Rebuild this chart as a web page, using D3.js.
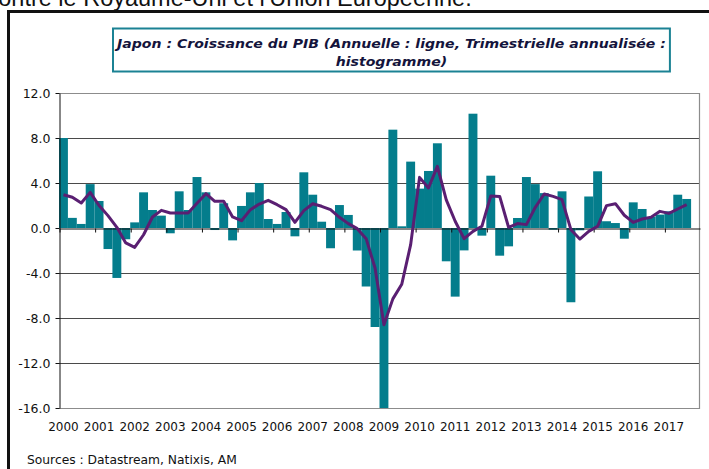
<!DOCTYPE html>
<html>
<head>
<meta charset="utf-8">
<script src="https://cdn.jsdelivr.net/npm/d3@7"></script>
<style>
  html, body { margin: 0; padding: 0; background: #ffffff; overflow: hidden; }
  svg { display: block; }
</style>
</head>
<body>
<svg id="chart" width="709" height="469"></svg>
<script>
// ---------- data ----------
const years = [2000, 2001, 2002, 2003, 2004, 2005, 2006, 2007, 2008, 2009,
               2010, 2011, 2012, 2013, 2014, 2015, 2016, 2017];
const quarterNames = ["T1", "T2", "T3", "T4"];

// Trimestrielle annualisée (histogramme), 2000 T1 -> 2017 T3
const quarterlyAnnualized = [
  8.0, 0.9, 0.36, 3.9,      // 2000
  2.4, -1.87, -4.44, -1.0,  // 2001
  0.5, 3.17, 1.6, 1.1,      // 2002
  -0.47, 3.26, 1.6, 4.53,   // 2003
  3.17, -0.18, 2.2, -1.1,   // 2004
  1.96, 3.17, 4.0, 0.8,     // 2005
  0.36, 1.42, -0.74, 4.95,  // 2006
  2.96, 0.56, -1.8, 2.04,   // 2007
  1.16, -2.0, -5.2, -8.8,   // 2008
  -16.0, 8.74, 0.15, 5.9,   // 2009
  3.5, 5.07, 7.53, -2.96,   // 2010
  -6.1, -1.99, 10.16, -0.68,// 2011
  4.65, -2.46, -1.63, 0.89, // 2012
  4.53, 3.9, 3.1, -0.15,    // 2013
  3.26, -6.6, -0.2, 2.8,    // 2014
  5.04, 0.6, 0.44, -0.95,   // 2015
  2.28, 1.69, 0.98, 1.19,   // 2016
  1.48, 2.96, 2.58          // 2017
];

// Annuelle (ligne), glissement annuel
const annual = [
  2.96, 2.73, 2.22, 3.17,
  2.0, 1.1, 0.06, -1.33,
  -1.72, -0.6, 0.98, 1.57,
  1.33, 1.33, 1.33, 2.2,
  3.05, 2.37, 2.37, 0.98,
  0.65, 1.63, 2.13, 2.46,
  2.07, 1.63, 0.5, 1.54,
  2.16, 1.93, 1.63, 0.95,
  0.39, -0.06, -0.95, -3.56,
  -8.6, -6.3, -5.0, -1.48,
  4.5, 3.56, 5.48, 2.5,
  0.6, -0.95, -0.3, 0.15,
  2.85, 2.81, 0.06, 0.39,
  0.3, 1.84, 3.02, 2.81,
  2.52, -0.15, -0.98, -0.3,
  0.15, 1.99, 2.16, 1.13,
  0.5, 0.8, 0.95, 1.48,
  1.3, 1.69, 2.07
];

const yTicks = [-16, -12, -8, -4, 0, 4, 8, 12];

const titleLine1 = "Japon : Croissance du PIB (Annuelle : ligne, Trimestrielle annualisée :";
const titleLine2 = "histogramme)";
const sourceText = "Sources : Datastream, Natixis, AM";
const headerText = "contre le Royaume-Uni et l'Union Européenne.";

// ---------- build ----------
const quarters = [];
years.forEach(y => quarterNames.forEach(q => quarters.push(y + " " + q)));

const barData = quarterlyAnnualized.map((v, i) => ({ q: quarters[i], v }));
const lineData = annual.map((v, i) => ({ q: quarters[i], v }));

const svg = d3.select("#chart");

const plot = { left: 59, right: 700, top: 93, bottom: 408 };

const x = d3.scaleBand().domain(quarters).range([plot.left, plot.right]).padding(0);
const y = d3.scaleLinear().domain([-16, 12]).range([plot.bottom, plot.top]);
const xYear = d3.scaleLinear().domain([years[0], years[years.length - 1] + 1]).range([plot.left, plot.right]);

// header text cut by the top of the picture
svg.append("text")
  .attr("x", -13.5).attr("y", 5.5)
  .attr("font-family", "'Liberation Sans', Arial, sans-serif")
  .attr("font-size", 23.5)
  .attr("fill", "#111")
  .text(headerText);

// outer frame
svg.append("rect")
  .attr("x", 8.5).attr("y", 11.5)
  .attr("width", 760).attr("height", 520)
  .attr("fill", "#ffffff")
  .attr("stroke", "#111")
  .attr("stroke-width", 3);

// title (box sized from the text)
const titleFont = "'DejaVu Sans Condensed', 'DejaVu Sans', sans-serif";
const titleBox = svg.append("rect");
const titleStart = 117;
function titleText(str, yPos) {
  return svg.append("text")
    .attr("y", yPos)
    .attr("font-family", titleFont)
    .attr("font-size", 13)
    .attr("font-weight", "bold")
    .attr("font-style", "italic")
    .attr("fill", "#14143c")
    .text(str);
}
// measure the part up to "Trimestrielle" to fix the squeeze factor
const probe = titleText("Japon : Croissance du PIB (Annuelle : ligne, ", 0);
const wPrefix = probe.node().getComputedTextLength();
probe.remove();
const squeeze = (460 - titleStart) / wPrefix;

const t1 = titleText(titleLine1, 47.5);
const w1 = t1.node().getComputedTextLength() * squeeze;
t1.attr("x", titleStart).attr("textLength", w1).attr("lengthAdjust", "spacingAndGlyphs");
const center = titleStart + w1 / 2;
const t2 = titleText(titleLine2, 66);
const w2 = t2.node().getComputedTextLength() * squeeze;
t2.attr("x", center - w2 / 2).attr("textLength", w2).attr("lengthAdjust", "spacingAndGlyphs");

titleBox
  .attr("x", 113).attr("y", 28.5)
  .attr("width", 2 * (center - 113)).attr("height", 43)
  .attr("fill", "#ffffff")
  .attr("stroke", "#1b8294")
  .attr("stroke-width", 2);

// grid lines
const grid = svg.append("g");
grid.selectAll("line")
  .data(yTicks.filter(t => t !== 0 && t !== -16 && t !== 12))
  .join("line")
  .attr("x1", plot.left).attr("x2", plot.right)
  .attr("y1", d => Math.round(y(d)) + 0.5).attr("y2", d => Math.round(y(d)) + 0.5)
  .attr("stroke", "#4a4a4a")
  .attr("stroke-width", 1);

// plot border (top / right / bottom in grey)
svg.append("path")
  .attr("d", `M${plot.left},${Math.round(plot.top) + 0.5}H${plot.right - 0.5}V${Math.round(plot.bottom) + 0.5}H${plot.left}`)
  .attr("fill", "none")
  .attr("stroke", "#8c8c8c")
  .attr("stroke-width", 1.2);

// bars
svg.append("g").selectAll("rect")
  .data(barData)
  .join("rect")
  .attr("x", d => x(d.q))
  .attr("width", x.bandwidth())
  .attr("y", d => y(Math.max(0, d.v)))
  .attr("height", d => Math.abs(y(d.v) - y(0)))
  .attr("fill", "#047d8c");

// zero axis with yearly ticks
const xAxisZero = d3.axisBottom(xYear)
  .tickValues(d3.range(years[0], years[years.length - 1] + 1))
  .tickFormat("")
  .tickSize(4)
  .tickSizeOuter(0);
const gz = svg.append("g")
  .attr("transform", `translate(0,${Math.round(y(0)) + 0.5})`)
  .call(xAxisZero);
gz.select(".domain").attr("stroke", "#111").attr("stroke-width", 1.2);
gz.selectAll(".tick line").attr("stroke", "#111").attr("transform", "translate(0.5,0)");

// line
const line = d3.line()
  .x(d => x(d.q) + x.bandwidth() / 2)
  .y(d => y(d.v));
svg.append("path")
  .datum(lineData)
  .attr("d", line)
  .attr("fill", "none")
  .attr("stroke", "#5a1f72")
  .attr("stroke-width", 3)
  .attr("stroke-linejoin", "round");

// y axis
const yAxis = d3.axisLeft(y)
  .tickValues(yTicks)
  .tickFormat(d => d.toFixed(1))
  .tickSize(4)
  .tickSizeOuter(0)
  .tickPadding(5);
const gy = svg.append("g")
  .attr("transform", `translate(${plot.left + 0.5},0)`)
  .call(yAxis);
gy.select(".domain").attr("stroke", "#111");
gy.selectAll(".tick line").attr("stroke", "#111");
gy.selectAll(".tick text")
  .attr("font-family", "'DejaVu Sans', Verdana, sans-serif")
  .attr("font-size", 12.5)
  .attr("fill", "#111");

// x labels (year at first quarter)
const xAxisLabels = d3.axisBottom(x)
  .tickValues(quarters.filter((q, i) => i % 4 === 0))
  .tickFormat(q => q.slice(0, 4))
  .tickSize(0)
  .tickPadding(14);
const gx = svg.append("g")
  .attr("transform", `translate(0,${plot.bottom})`)
  .call(xAxisLabels);
gx.select(".domain").remove();
gx.selectAll(".tick text")
  .attr("font-family", "'DejaVu Sans', Verdana, sans-serif")
  .attr("font-size", 12)
  .attr("fill", "#111");

// source
svg.append("text")
  .attr("x", 27).attr("y", 464)
  .attr("font-family", "'DejaVu Sans', Verdana, sans-serif")
  .attr("font-size", 12.3)
  .attr("fill", "#111")
  .text(sourceText);
</script>
</body>
</html>
